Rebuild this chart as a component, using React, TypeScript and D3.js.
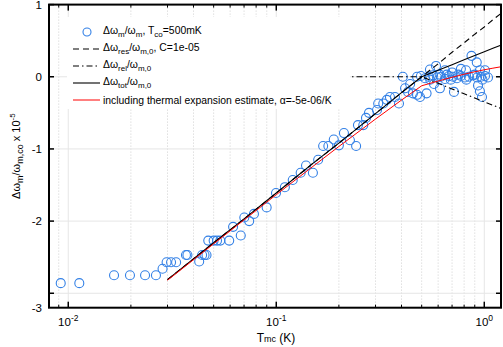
import React from "react";
import * as d3 from "d3";

// measured data: temperature (K) and relative shift (x1e-5)
const tempK = [
  0.0092, 0.0113, 0.0166, 0.0198, 0.0234, 0.0264, 0.0284, 0.0297, 0.0312, 0.033,
  0.0368, 0.0374, 0.0426, 0.044, 0.0452, 0.0462, 0.0471, 0.05, 0.0519, 0.0538,
  0.0594, 0.062, 0.0675, 0.0702, 0.0741, 0.0781, 0.0899, 0.0997, 0.11, 0.12,
  0.131, 0.139, 0.15, 0.159, 0.168, 0.178, 0.189, 0.2, 0.2115, 0.226,
  0.242, 0.247, 0.262, 0.27, 0.279, 0.305, 0.309, 0.327, 0.34, 0.352,
  0.372, 0.389, 0.406, 0.416, 0.43, 0.44, 0.454, 0.475, 0.491, 0.528,
  0.573, 0.612, 0.715, 0.933, 0.953, 0.975,
  0.475, 0.496, 0.519, 0.542, 0.567, 0.593, 0.619, 0.647, 0.676, 0.707,
  0.739, 0.772, 0.807, 0.844, 0.883, 0.923, 0.964, 1.008, 1.042,
  0.61, 0.69, 0.75, 0.82, 0.9, 0.98, 0.55, 0.66,
  0.548, 0.586, 0.647, 0.7, 0.772, 0.817, 0.868, 0.92, 0.953, 1.008,
];
const shiftData = [
  -2.86, -2.86, -2.75, -2.75, -2.75, -2.75, -2.66, -2.57, -2.57, -2.57,
  -2.47, -2.47, -2.56, -2.47, -2.47, -2.47, -2.27, -2.27, -2.27, -2.27,
  -2.27, -2.08, -2.2, -1.95, -2.0, -1.9, -1.81, -1.61, -1.53, -1.43,
  -1.33, -1.23, -1.33, -1.15, -0.96, -0.96, -0.87, -0.95, -0.78, -0.88,
  -0.96, -0.67, -0.67, -0.57, -0.5, -0.46, -0.37, -0.37, -0.32, -0.28,
  -0.28, -0.37, 0.0, -0.16, -0.21, -0.1, -0.23, -0.25, -0.28, -0.23,
  -0.1, -0.16, -0.21, -0.12, -0.2, -0.28,
  0.0, 0.01, -0.02, 0.0, 0.02, -0.01, 0.0, -0.03, 0.01, 0.0,
  -0.02, 0.01, -0.01, 0.0, 0.02, -0.01, 0.0, 0.01, -0.01,
  0.03, -0.04, 0.03, -0.04, 0.03, -0.04, -0.04, 0.03,
  0.1, 0.15, 0.09, 0.06, 0.11, 0.09, 0.29, 0.2, 0.09, 0.09,
];

// model curves
const modelT = [0.03, 0.05, 0.07, 0.1, 0.15, 0.2, 0.3, 0.4, 0.5, 0.6, 0.7, 0.8, 0.9, 1.0, 1.1, 1.2];
const resLine = [-2.81, -2.3, -1.97, -1.61, -1.2, -0.92, -0.51, -0.22, 0, 0.18, 0.34, 0.47, 0.59, 0.69, 0.79, 0.875];
const relLine = [0, 0, 0, 0, 0, 0, 0, 0, 0, -0.091, -0.168, -0.235, -0.294, -0.347, -0.394, -0.438];
const totLine = [-2.81, -2.3, -1.97, -1.61, -1.2, -0.92, -0.51, -0.22, 0, 0.091, 0.168, 0.235, 0.294, 0.347, 0.394, 0.438];
const thermLine = [-2.82, -2.315, -1.984, -1.634, -1.242, -0.966, -0.586, -0.323, -0.125, -0.059, -0.007, 0.035, 0.069, 0.097, 0.119, 0.138];

const xMajorTicks = [0.01, 0.1, 1];
const xTickExponents = ["-2", "-1", "0"];
const yTicks = [1, 0, -1, -2, -3];
const yTickLabels = ["1", "0", "-1", "-2"];
const yBottomLabel = "-3";

const W = 503, H = 347;
const L = 49, R = 501, T = 4.6, B = 307.7;
const FONT = "'Liberation Sans', Arial, Helvetica, sans-serif";
const BLUE = "#3380e6";

export default function App() {
  const x = d3.scaleLog().domain([0.00808, 1.2033]).range([L, R]);
  const y = d3.scaleLinear().domain([-3.2, 1]).range([B, T]);
  const minorX = x.ticks().filter((t) => !xMajorTicks.some((m) => Math.abs(m - t) / m < 1e-6));
  const line = d3
    .line<[number, number]>()
    .x((d) => x(d[0]))
    .y((d) => y(d[1]));
  const mk = (vals: number[]) => modelT.map((t, i) => [t, vals[i]] as [number, number]);

  const legendRows = [32, 49, 66, 83, 100];
  const lx0 = 73, lx1 = 100, tx = 103;
  const sub = (s: string) => (
    <tspan dy={3} fontSize={8}>{s}</tspan>
  );

  return (
    <svg width={W} height={H} style={{ position: "absolute", left: 0, top: 0, background: "#fff" }} fontFamily={FONT}>
      <rect x={0} y={0} width={W} height={H} fill="#fff" />
      {/* grid */}
      {minorX.map((t, i) => (
        <line key={"gm" + i} x1={x(t)} x2={x(t)} y1={T} y2={B} stroke="#cfcfcf" strokeWidth={1} strokeDasharray="1,2" />
      ))}
      {xMajorTicks.map((t, i) => (
        <line key={"gx" + i} x1={x(t)} x2={x(t)} y1={T} y2={B} stroke="#e6e6e6" strokeWidth={1} />
      ))}
      {yTicks.map((v, i) => (
        <line key={"gy" + i} x1={L} x2={R} y1={y(v)} y2={y(v)} stroke="#e6e6e6" strokeWidth={1} />
      ))}
      {/* data */}
      {tempK.map((t, i) => (
        <circle key={"p" + i} cx={x(t)} cy={y(shiftData[i])} r={4.5} fill="none" stroke={BLUE} strokeWidth={1.1} />
      ))}
      {/* models */}
      <path d={line(mk(resLine)) || ""} fill="none" stroke="#000" strokeWidth={1.1} strokeDasharray="6,4" />
      <path d={line(mk(relLine)) || ""} fill="none" stroke="#000" strokeWidth={1.1} strokeDasharray="6,3,1.5,3" />
      <path d={line(mk(totLine)) || ""} fill="none" stroke="#000" strokeWidth={1.1} />
      <path d={line(mk(thermLine)) || ""} fill="none" stroke="#ff0000" strokeWidth={1} />

      {/* legend */}
      <rect x={67} y={17} width={283} height={92} fill="#fff" />
      <circle cx={87} cy={legendRows[0]} r={4} fill="none" stroke={BLUE} strokeWidth={1.1} />
      <line x1={lx0} x2={lx1} y1={legendRows[1]} y2={legendRows[1]} stroke="#000" strokeWidth={1.1} strokeDasharray="6,4" />
      <line x1={lx0} x2={lx1} y1={legendRows[2]} y2={legendRows[2]} stroke="#000" strokeWidth={1.1} strokeDasharray="6,3,1.5,3" />
      <line x1={lx0} x2={lx1} y1={legendRows[3]} y2={legendRows[3]} stroke="#000" strokeWidth={1.1} />
      <line x1={lx0} x2={lx1} y1={legendRows[4]} y2={legendRows[4]} stroke="#ff0000" strokeWidth={1} />
      <g fontSize={10.4} fill="#000">
        <text x={tx} y={legendRows[0] + 2}>
          Δω{sub("m")}<tspan dy={-3}>/ω</tspan>{sub("m")}<tspan dy={-3}>, T</tspan>{sub("co")}<tspan dy={-3}>=500mK</tspan>
        </text>
        <text x={tx} y={legendRows[1] + 2}>
          Δω{sub("res")}<tspan dy={-3}>/ω</tspan>{sub("m,0")}<tspan dy={-3}>, C=1e-05</tspan>
        </text>
        <text x={tx} y={legendRows[2] + 2}>
          Δω{sub("rel")}<tspan dy={-3}>/ω</tspan>{sub("m,0")}
        </text>
        <text x={tx} y={legendRows[3] + 2}>
          Δω{sub("tot")}<tspan dy={-3}>/ω</tspan>{sub("m,0")}
        </text>
        <text x={tx} y={legendRows[4] + 3.5}>including thermal expansion estimate, α=-5e-06/K</text>
      </g>

      {/* frame */}
      <rect x={L} y={T} width={R - L} height={B - T} fill="none" stroke="#000" strokeWidth={2} />
      {/* ticks */}
      {xMajorTicks.map((t, i) => (
        <g key={"xt" + i}>
          <line x1={x(t)} x2={x(t)} y1={B} y2={B - 6} stroke="#000" strokeWidth={1.5} />
          <line x1={x(t)} x2={x(t)} y1={T} y2={T + 6} stroke="#000" strokeWidth={1.5} />
        </g>
      ))}
      {minorX.map((t, i) => (
        <g key={"xm" + i}>
          <line x1={x(t)} x2={x(t)} y1={B} y2={B - 3} stroke="#000" strokeWidth={1} />
          <line x1={x(t)} x2={x(t)} y1={T} y2={T + 3} stroke="#000" strokeWidth={1} />
        </g>
      ))}
      {yTicks.map((v, i) => (
        <g key={"yt" + i}>
          <line x1={L} x2={L + 5} y1={y(v)} y2={y(v)} stroke="#000" strokeWidth={1.5} />
          <line x1={R} x2={R - 5} y1={y(v)} y2={y(v)} stroke="#000" strokeWidth={1.5} />
        </g>
      ))}
      {/* tick labels */}
      <g fontSize={11.5} fill="#000">
        {yTickLabels.map((s, i) => (
          <text key={"yl" + i} x={42} y={y(yTicks[i]) + 4} textAnchor="end">{s}</text>
        ))}
        <text x={42} y={y(-3.2) + 4} textAnchor="end">{yBottomLabel}</text>
        {xMajorTicks.map((t, i) => (
          <text key={"xl" + i} x={x(t)} y={326} textAnchor="middle">
            10<tspan dy={-5} fontSize={8.5}>{xTickExponents[i]}</tspan>
          </text>
        ))}
      </g>
      {/* axis labels */}
      <text x={276} y={342} textAnchor="middle" fontSize={12}>
        T<tspan fontSize={9}>mc</tspan> (K)
      </text>
      <text transform={`translate(20,${(T + B) / 2}) rotate(-90)`} textAnchor="middle" fontSize={11}>
        Δω<tspan dy={3} fontSize={9}>m</tspan><tspan dy={-3}>/ω</tspan><tspan dy={3} fontSize={9}>m,co</tspan>
        <tspan dy={-3}> x 10</tspan><tspan dy={-5} fontSize={8}>-5</tspan>
      </text>
    </svg>
  );
}
